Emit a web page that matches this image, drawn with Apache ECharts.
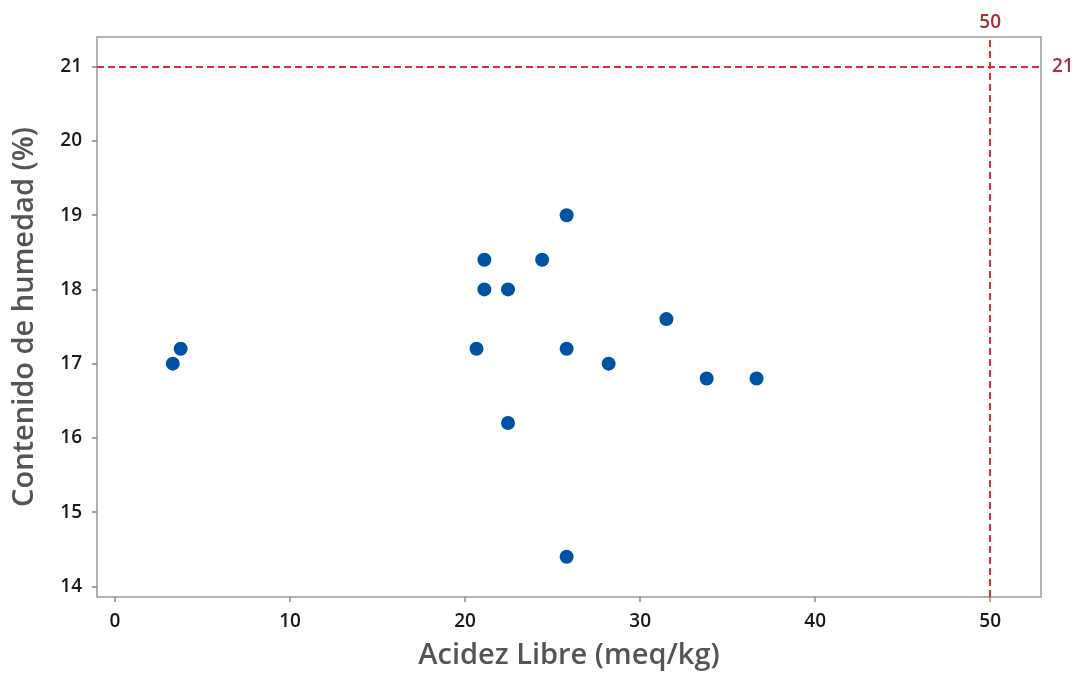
<!DOCTYPE html>
<html>
<head>
<meta charset="utf-8">
<script src="https://cdn.jsdelivr.net/npm/echarts@6/dist/echarts.min.js"></script>
<style>
  html, body { margin: 0; padding: 0; background: #fff; }
  #chart { width: 1076px; height: 675px; }
</style>
</head>
<body>
<div id="chart"></div>
<script>
// Free acidity vs. moisture content
const acidezLibre = [3.3, 3.75, 20.65, 21.1, 21.1, 22.45, 22.45, 24.4, 25.8, 25.8, 25.8, 28.2, 31.5, 33.8, 36.65];
const humedad     = [17.0, 17.2, 17.2, 18.4, 18.0, 18.0, 16.2, 18.4, 19.0, 17.2, 14.4, 17.0, 17.6, 16.8, 16.8];

const xTicks = [0, 10, 20, 30, 40, 50];
const yTicks = [14, 15, 16, 17, 18, 19, 20, 21];

// Reference limits
const refX = 50;
const refY = 21;

const points = acidezLibre.map((x, i) => [x, humedad[i]]);

const tickLabel = { fontFamily: 'Open Sans', fontSize: 19, fontWeight: 600, color: '#1a1a1a' };
const axisName = { fontFamily: 'Open Sans', fontSize: 29, fontWeight: 600, color: '#555' };
const refColor = '#e0302f';
const refLabel = { fontFamily: 'Open Sans', fontSize: 19, fontWeight: 600, color: '#a83232' };

const chart = echarts.init(document.getElementById('chart'), null, { renderer: 'canvas' });
chart.setOption({
  animation: false,
  backgroundColor: '#fff',
  grid: {
    left: 97, right: 35, top: 37, bottom: 75,
    show: true, borderColor: '#999', borderWidth: 1.5, backgroundColor: 'transparent'
  },
  xAxis: {
    type: 'value',
    min: -1.03, max: 52.9,
    name: 'Acidez Libre (meq/kg)',
    nameLocation: 'middle', nameGap: 44,
    nameTextStyle: axisName,
    axisLine: { show: false, onZero: false },
    splitLine: { show: false },
    axisTick: { show: true, length: 5, inside: false, lineStyle: { color: '#888', width: 1.5 }, customValues: xTicks },
    axisLabel: Object.assign({ margin: 15, customValues: xTicks }, tickLabel)
  },
  yAxis: {
    type: 'value',
    min: 13.857, max: 21.4,
    name: 'Contenido de humedad (%)',
    nameLocation: 'middle', nameGap: 58,
    nameTextStyle: axisName,
    axisLine: { show: false, onZero: false },
    splitLine: { show: false },
    axisTick: { show: true, length: 5, inside: false, lineStyle: { color: '#888', width: 1.5 }, customValues: yTicks },
    axisLabel: Object.assign({ margin: 15, customValues: yTicks }, tickLabel)
  },
  series: [{
    type: 'scatter',
    data: points,
    symbol: 'circle',
    symbolSize: 14,
    itemStyle: { color: '#0052a3', opacity: 1 },
    markLine: {
      silent: true,
      symbol: 'none',
      lineStyle: { color: refColor, type: [7, 4], width: 2, opacity: 1 },
      data: [
        { yAxis: refY, label: Object.assign({ show: true, position: 'end', formatter: String(refY), distance: 11 }, refLabel) },
        { xAxis: refX, label: Object.assign({ show: true, position: 'end', formatter: String(refX), distance: 5 }, refLabel) }
      ]
    }
  }]
});
</script>
</body>
</html>
